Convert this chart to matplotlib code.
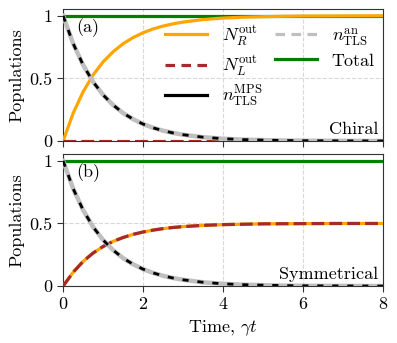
import numpy as np
import matplotlib
matplotlib.use("Agg")
import matplotlib.pyplot as plt
from matplotlib.lines import Line2D

plt.rcParams['font.family'] = 'cmr10'
plt.rcParams['mathtext.fontset'] = 'cm'
plt.rcParams['axes.unicode_minus'] = False
plt.rcParams['axes.formatter.use_mathtext'] = True
plt.rcParams['font.size'] = 13

# time samples (gamma t) and populations
t = [0, 0.25, 0.5, 0.75, 1.0, 1.25, 1.5, 1.75, 2.0, 2.25, 2.5, 2.75, 3.0,
     3.5, 4.0, 4.5, 5.0, 5.5, 6.0, 7.0, 8.0]
n_tls = [1.0, 0.779, 0.607, 0.472, 0.368, 0.287, 0.223, 0.174, 0.135, 0.105,
         0.082, 0.064, 0.050, 0.030, 0.018, 0.011, 0.007, 0.004, 0.002, 0.001, 0.0]
nr_chiral = [0.0, 0.221, 0.393, 0.528, 0.632, 0.713, 0.777, 0.826, 0.865, 0.895,
             0.918, 0.936, 0.950, 0.970, 0.982, 0.989, 0.993, 0.996, 0.998, 0.999, 1.0]
nl_chiral = [0.0] * len(t)
nr_sym = [0.0, 0.110, 0.197, 0.264, 0.316, 0.357, 0.388, 0.413, 0.432, 0.447,
          0.459, 0.468, 0.475, 0.485, 0.491, 0.494, 0.497, 0.498, 0.499, 0.500, 0.500]
nl_sym = nr_sym
total = [1.0] * len(t)

orange = '#ffa500'
brown = '#a52a2a'
green = '#008000'
gray = '#bfbfbf'

fig = plt.figure(figsize=(3.97, 3.43), dpi=100)
ax1 = fig.add_axes([0.159, 0.589, 0.806, 0.385])
ax2 = fig.add_axes([0.159, 0.166, 0.806, 0.385])

panels = [(ax1, nr_chiral, nl_chiral, '(a)', 'Chiral'),
          (ax2, nr_sym, nl_sym, '(b)', 'Symmetrical')]

for ax, nr, nl, lab, name in panels:
    ax.grid(True, ls='--', color='#d8d8d8', lw=0.8)
    ax.set_axisbelow(True)
    ax.plot(t, total, color=green, lw=2.3, zorder=3)
    ax.plot(t, nr, color=orange, lw=2.3, zorder=3)
    ax.plot(t, nl, color=brown, lw=2.3, ls=(0, (4, 1.6)), zorder=4)
    ax.plot(t, n_tls, color=gray, lw=3.2, zorder=5)
    ax.plot(t, n_tls, color='black', lw=2.0, ls=(0, (2.2, 3.2)), zorder=6)
    ax.set_xlim(0, 8)
    ax.set_ylim(0, 1.055)
    ax.set_xticks([0, 2, 4, 6, 8])
    ax.set_yticks([0, 0.5, 1])
    ax.set_yticklabels(['0', '0.5', '1'])
    ax.set_ylabel('Populations')
    ax.text(0.04, 0.93, lab, transform=ax.transAxes, va='top', ha='left')
    ax.text(0.985, 0.03, name, transform=ax.transAxes, va='bottom', ha='right')
    for s in ax.spines.values():
        s.set_color('#333333')
    ax.tick_params(color='#333333', length=4)

ax1.tick_params(labelbottom=False)
ax2.set_xlabel(r'Time, $\gamma t$')
ax1.yaxis.set_label_coords(-0.12, 0.5)
ax2.yaxis.set_label_coords(-0.12, 0.5)

handles = [
    Line2D([], [], color=orange, lw=2.3),
    Line2D([], [], color=brown, lw=2.3, ls=(0, (3, 2))),
    Line2D([], [], color='black', lw=2.3),
    Line2D([], [], color=gray, lw=2.3, ls=(0, (3, 2))),
    Line2D([], [], color=green, lw=2.3),
]
labels = [r'$N_R^{\rm out}$', r'$N_L^{\rm out}$', r'$n_{\rm TLS}^{\rm MPS}$',
          r'$n_{\rm TLS}^{\rm an}$', 'Total']
ax1.legend(handles, labels, ncol=2, frameon=False, loc='upper right',
           bbox_to_anchor=(1.025, 1.015), handlelength=2.35, columnspacing=0.7,
           labelspacing=0.3, handletextpad=0.8)

fig.savefig('out.png', dpi=100)
